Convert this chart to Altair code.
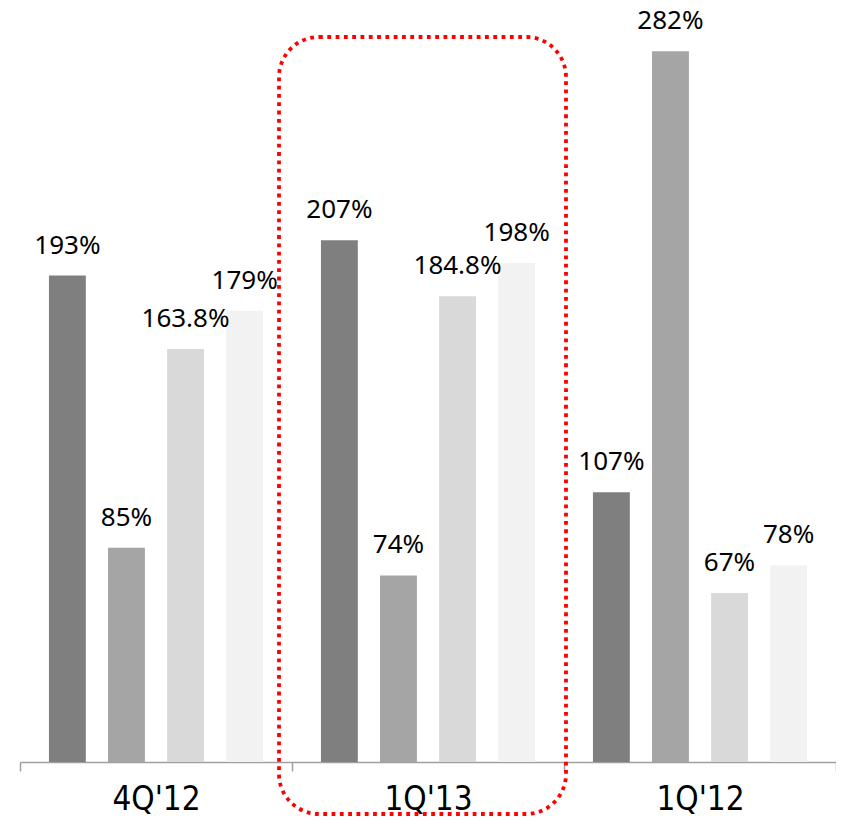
import altair as alt
import pandas as pd

groups = ["4Q'12", "1Q'13", "1Q'12"]
series = ["S1", "S2", "S3", "S4"]
values = [
    [193, 85, 163.8, 179],
    [207, 74, 184.8, 198],
    [107, 282, 67, 78],
]
labels = [
    ["193%", "85%", "163.8%", "179%"],
    ["207%", "74%", "184.8%", "198%"],
    ["107%", "282%", "67%", "78%"],
]
colors = ["#7f7f7f", "#a5a5a5", "#d9d9d9", "#f2f2f2"]

rows = []
for gi, g in enumerate(groups):
    for si, s in enumerate(series):
        rows.append({"group": g, "series": s, "value": values[gi][si], "label": labels[gi][si]})
df = pd.DataFrame(rows)

x = alt.X("group:N", sort=groups, title=None,
          scale=alt.Scale(paddingInner=0, paddingOuter=0),
          axis=alt.Axis(labelAngle=0, tickBand="extent", grid=False))
xo = alt.XOffset("series:N", sort=series,
                 scale=alt.Scale(paddingInner=0.376, paddingOuter=0.49))
y = alt.Y("value:Q", scale=alt.Scale(domain=[0, 290], nice=False, zero=True), axis=None)

base = alt.Chart(df)

bars = base.mark_bar().encode(
    x=x, xOffset=xo, y=y,
    color=alt.Color("series:N", sort=series,
                    scale=alt.Scale(domain=series, range=colors), legend=None),
)

text = base.mark_text(baseline="alphabetic", dy=-22, font="Noto Sans", fontSize=26,
                      color="#000000").encode(
    x=x, xOffset=xo, y=y, text="label:N"
)

box = alt.Chart(pd.DataFrame({"k": [1]})).mark_rect(
    filled=False, stroke="#ff0000", strokeWidth=3.8, strokeDash=[3.8, 4.5],
    cornerRadius=40, fill=None
).encode(
    x=alt.value(259), x2=alt.value(546), y=alt.value(6), y2=alt.value(783)
)

chart = alt.layer(bars, text, box).properties(
    width=816, height=731,
    autosize=alt.AutoSizeParams(type="none"),
    padding={"left": 12, "top": 23, "right": 0, "bottom": 54},
).configure_view(stroke=None).configure_axis(
    domainColor="#a0a0a0", domainWidth=1.5, tickColor="#a0a0a0", tickWidth=1.5,
    tickSize=9, labelFont="DejaVu Sans Condensed", labelFontSize=33,
    labelColor="#000000", labelPadding=12,
)

chart.save("out.html", embed_options={"renderer": "svg", "actions": False})
